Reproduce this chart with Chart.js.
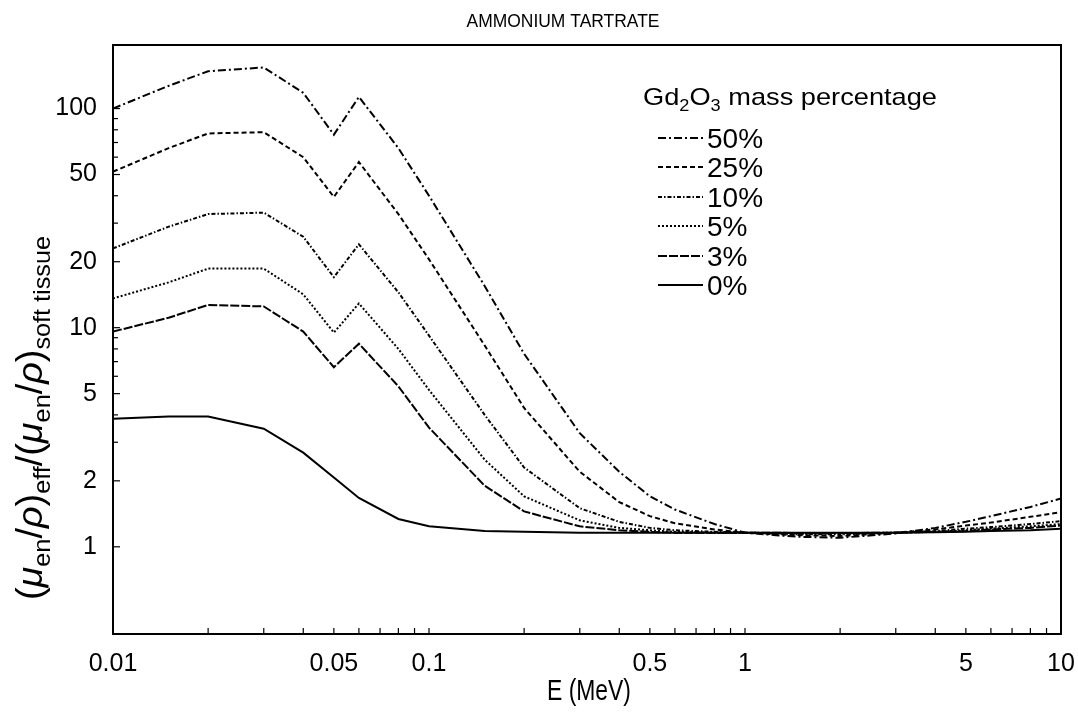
<!DOCTYPE html>
<html>
<head>
<meta charset="utf-8">
<script src="https://cdn.jsdelivr.net/npm/chart.js@4.4.1/dist/chart.umd.min.js"></script>
<style>
html,body{margin:0;padding:0;background:#fff;}
#wrap{width:1078px;height:713px;position:relative;}
</style>
</head>
<body>
<div id="wrap"><canvas id="c" width="1078" height="713"></canvas></div>
<script>
const chartTitle = "AMMONIUM TARTRATE";
const energies = [0.01,0.015,0.02,0.03,0.04,0.05,0.06,0.08,0.1,0.15,0.2,0.3,0.4,0.5,0.6,0.8,1,1.25,1.5,2,3,4,5,6,8,10];
const gd50 = [100,127,148,154,118,76,113,66,40,15.5,7.6,3.3,2.2,1.7,1.48,1.27,1.16,1.13,1.11,1.10,1.15,1.22,1.3,1.38,1.52,1.66];
const gd25 = [51.5,66,77,78,60,39.5,57,33,20.5,8.3,4.3,2.2,1.6,1.38,1.28,1.2,1.16,1.14,1.13,1.12,1.16,1.2,1.25,1.29,1.37,1.44];
const gd10 = [23,28.9,33,33.5,26,17,24,14.5,9.2,4.0,2.3,1.5,1.3,1.22,1.19,1.17,1.16,1.15,1.14,1.14,1.16,1.18,1.21,1.23,1.27,1.31];
const gd5  = [13.6,16.1,18.6,18.6,14.2,9.5,12.9,8.0,5.2,2.5,1.7,1.32,1.22,1.19,1.17,1.16,1.16,1.155,1.15,1.15,1.16,1.17,1.19,1.21,1.24,1.27];
const gd3  = [9.6,11.1,12.7,12.5,9.6,6.6,8.45,5.4,3.5,1.9,1.45,1.24,1.19,1.17,1.16,1.16,1.16,1.16,1.155,1.155,1.16,1.17,1.18,1.2,1.22,1.25];
const gd0  = [3.84,3.93,3.93,3.46,2.69,2.07,1.67,1.34,1.24,1.18,1.17,1.16,1.16,1.16,1.16,1.16,1.16,1.16,1.16,1.16,1.16,1.165,1.17,1.18,1.19,1.21];
const seriesLabels = ["50%","25%","10%","5%","3%","0%"];
const xTickValues = [0.01,0.02,0.03,0.04,0.05,0.06,0.07,0.08,0.09,0.1,0.2,0.3,0.4,0.5,0.6,0.7,0.8,0.9,1,2,3,4,5,6,7,8,9,10];
const xTickLabels = ["0.01","0.05","0.1","0.5","1","5","10"];
const yTickValues = [1,2,3,4,5,6,7,8,9,10,20,30,40,50,60,70,80,90,100];
const yTickLabels = ["1","2","5","10","20","50","100"];

const dashes = [[8,3,2,3],[5,3],[4,2,1.5,2],[2,2],[9,2],[]];
const allSeries = [gd50,gd25,gd10,gd5,gd3,gd0];

const datasets = allSeries.map((arr,i)=>({
  label: seriesLabels[i],
  data: energies.map((e,j)=>({x:e,y:arr[j]})),
  borderColor:'#000',
  borderWidth:2,
  borderDash:dashes[i],
  pointRadius:0,
  tension:0,
  fill:false
}));

const FONT = "'Liberation Sans', Arial, Helvetica, sans-serif";

function richWidth(ctx, parts){
  let total = 0;
  parts.forEach(p=>{ctx.font=(p[3]?'italic ':'')+p[1]+'px '+FONT; total+=ctx.measureText(p[0]).width;});
  return total;
}
function drawRich(ctx, parts, x, y){
  let cx = x;
  parts.forEach(p=>{
    ctx.font=(p[3]?'italic ':'')+p[1]+'px '+FONT;
    ctx.fillText(p[0], cx, y+p[2]);
    cx += ctx.measureText(p[0]).width;
  });
}
function drawFitted(ctx, parts, x, y, targetW, align){
  const w = richWidth(ctx, parts);
  const k = targetW / w;
  ctx.save();
  ctx.translate(align==='center' ? x - targetW/2 : x, y);
  ctx.scale(k, 1);
  drawRich(ctx, parts, 0, 0);
  ctx.restore();
}

const decor = {
  id:'decor',
  afterDraw(chart){
    const ctx = chart.ctx, xs = chart.scales.x, ys = chart.scales.y, a = chart.chartArea;
    ctx.save();
    ctx.strokeStyle='#000'; ctx.fillStyle='#000';
    ctx.lineWidth=2;
    ctx.strokeRect(a.left, a.top, a.right-a.left, a.bottom-a.top);
    ctx.lineWidth=1.2;
    xTickValues.forEach(v=>{
      const px = xs.getPixelForValue(v);
      ctx.beginPath(); ctx.moveTo(px, a.bottom); ctx.lineTo(px, a.bottom-6); ctx.stroke();
    });
    yTickValues.forEach(v=>{
      const py = ys.getPixelForValue(v);
      const major = yTickLabels.includes(String(v));
      ctx.beginPath(); ctx.moveTo(a.left, py); ctx.lineTo(a.left+(major?7:5), py); ctx.stroke();
    });
    ctx.textAlign='left'; ctx.textBaseline='alphabetic';
    drawFitted(ctx, [[chartTitle,18.5,0,false]], 563, 27, 193, 'center');
    drawFitted(ctx, [['E (MeV)',30,0,false]], 589, 700, 84, 'center');
    ctx.save();
    ctx.translate(42, 418);
    ctx.rotate(-Math.PI/2);
    drawFitted(ctx, [
      ['(',36,0,false],['\u03BC',36,0,true],['en',24,8,false],['/',36,0,false],['\u03C1',36,0,true],[')',36,0,false],
      ['eff',24,8,false],['/(',36,0,false],['\u03BC',36,0,true],['en',24,8,false],['/',36,0,false],['\u03C1',36,0,true],[')',36,0,false],
      ['soft tissue',24,8,false]
    ], 0, 0, 364, 'center');
    ctx.restore();
    drawFitted(ctx, [['Gd',24,0,false],['2',16,6,false],['O',24,0,false],['3',16,6,false],[' mass percentage',24,0,false]], 643, 105, 294, 'left');
    const rowsY = [138,167,197,226,256,285];
    seriesLabels.forEach((lab,i)=>{
      ctx.lineWidth=2;
      ctx.setLineDash(dashes[i]);
      ctx.beginPath(); ctx.moveTo(658, rowsY[i]); ctx.lineTo(703, rowsY[i]); ctx.stroke();
      ctx.setLineDash([]);
      ctx.font='28px '+FONT;
      ctx.fillText(lab, 707, rowsY[i]+10);
    });
    ctx.restore();
  }
};

new Chart(document.getElementById('c'), {
  type:'line',
  data:{datasets},
  options:{
    responsive:false,
    animation:false,
    layout:{padding:{top:45,right:17,left:0,bottom:0}},
    plugins:{legend:{display:false},tooltip:{enabled:false},title:{display:false}},
    scales:{
      x:{
        type:'logarithmic', min:0.01, max:10,
        afterBuildTicks(s){ s.ticks = xTickValues.map(v=>({value:v})); },
        afterFit(s){ s.height = 79; s.paddingLeft = 0; s.paddingRight = 0; },
        grid:{display:false, drawTicks:false},
        border:{display:false},
        ticks:{
          autoSkip:false, maxRotation:0, minRotation:0, padding:15, color:'#000',
          font:{family:FONT, size:25},
          callback:(v)=> xTickLabels.includes(String(v)) ? String(v) : ''
        }
      },
      y:{
        type:'logarithmic', min:0.4, max:195,
        afterBuildTicks(s){ s.ticks = yTickValues.map(v=>({value:v})); },
        afterFit(s){ s.width = 113; s.paddingTop = 0; s.paddingBottom = 0; },
        grid:{display:false, drawTicks:false},
        border:{display:false},
        ticks:{
          autoSkip:false, padding:16, color:'#000',
          font:{family:FONT, size:25},
          callback:(v)=> yTickLabels.includes(String(v)) ? String(v) : ''
        }
      }
    }
  },
  plugins:[decor]
});
</script>
</body>
</html>
